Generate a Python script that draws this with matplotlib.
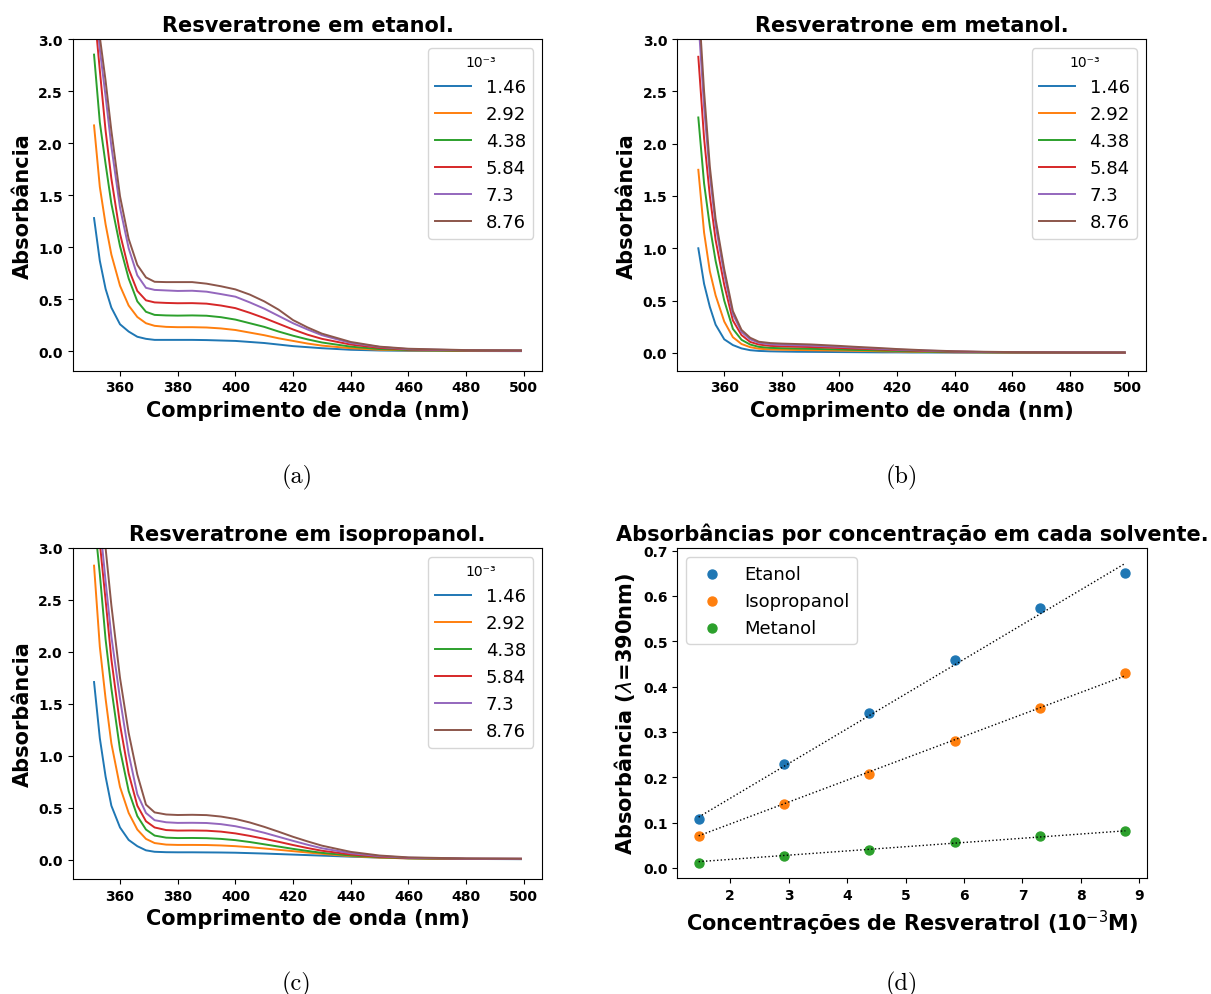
import numpy as np
import matplotlib
matplotlib.use('Agg')
from matplotlib import pyplot as plt

# Comprimentos de onda (nm) em que os espectros foram lidos
wl = [351, 353, 355, 357, 360, 363, 366, 369, 372, 376, 380, 385, 390,
      395, 400, 405, 410, 415, 420, 425, 430, 440, 450, 460, 480, 499]

# Concentrações (10^-3 M)
conc = [1.46, 2.92, 4.38, 5.84, 7.3, 8.76]
conc_labels = ['1.46', '2.92', '4.38', '5.84', '7.3', '8.76']

# Etanol
eta_146 = [1.28, 0.87, 0.60, 0.42, 0.26, 0.19, 0.14, 0.12, 0.11, 0.11, 0.11, 0.11, 0.108,
           0.104, 0.10, 0.09, 0.08, 0.065, 0.05, 0.04, 0.03, 0.015, 0.008, 0.005, 0.003, 0.002]
eta_292 = [2.17, 1.58, 1.22, 0.93, 0.63, 0.44, 0.33, 0.27, 0.245, 0.235, 0.232, 0.232, 0.229,
           0.22, 0.205, 0.18, 0.155, 0.125, 0.10, 0.075, 0.055, 0.03, 0.015, 0.009, 0.005, 0.004]
eta_438 = [2.85, 2.20, 1.80, 1.42, 1.01, 0.70, 0.48, 0.38, 0.35, 0.345, 0.343, 0.345, 0.342,
           0.328, 0.305, 0.27, 0.235, 0.19, 0.15, 0.115, 0.085, 0.045, 0.022, 0.012, 0.006, 0.005]
eta_584 = [3.30, 2.70, 2.12, 1.66, 1.13, 0.79, 0.58, 0.49, 0.47, 0.465, 0.462, 0.463, 0.458,
           0.44, 0.415, 0.37, 0.32, 0.265, 0.21, 0.16, 0.12, 0.065, 0.033, 0.017, 0.008, 0.006]
eta_730 = [3.45, 2.90, 2.45, 1.97, 1.38, 0.99, 0.73, 0.61, 0.59, 0.585, 0.58, 0.582, 0.573,
           0.55, 0.525, 0.47, 0.41, 0.34, 0.27, 0.21, 0.155, 0.08, 0.042, 0.021, 0.01, 0.008]
eta_876 = [3.60, 3.02, 2.60, 2.12, 1.49, 1.08, 0.83, 0.71, 0.668, 0.665, 0.665, 0.665, 0.65,
           0.625, 0.595, 0.545, 0.48, 0.40, 0.30, 0.23, 0.17, 0.09, 0.045, 0.025, 0.012, 0.01]

# Metanol
met_146 = [1.00, 0.66, 0.44, 0.27, 0.13, 0.075, 0.043, 0.026, 0.019, 0.015, 0.013, 0.011, 0.010,
           0.009, 0.008, 0.007, 0.006, 0.005, 0.005, 0.004, 0.004, 0.003, 0.003, 0.002, 0.002, 0.002]
met_292 = [1.75, 1.15, 0.78, 0.55, 0.30, 0.15, 0.085, 0.055, 0.04, 0.033, 0.03, 0.028, 0.026,
           0.024, 0.022, 0.02, 0.018, 0.015, 0.013, 0.011, 0.009, 0.006, 0.005, 0.004, 0.003, 0.003]
met_438 = [2.25, 1.62, 1.21, 0.88, 0.50, 0.23, 0.125, 0.08, 0.058, 0.048, 0.045, 0.042, 0.039,
           0.036, 0.033, 0.029, 0.026, 0.022, 0.019, 0.015, 0.012, 0.008, 0.006, 0.005, 0.003, 0.003]
met_584 = [2.83, 2.05, 1.50, 1.08, 0.65, 0.31, 0.17, 0.105, 0.08, 0.067, 0.063, 0.059, 0.056,
           0.052, 0.047, 0.042, 0.037, 0.031, 0.027, 0.022, 0.018, 0.012, 0.008, 0.006, 0.004, 0.003]
met_730 = [3.20, 2.35, 1.70, 1.22, 0.75, 0.37, 0.20, 0.13, 0.097, 0.082, 0.077, 0.073, 0.070,
           0.064, 0.058, 0.052, 0.045, 0.038, 0.032, 0.027, 0.022, 0.014, 0.009, 0.007, 0.005, 0.004]
met_876 = [3.40, 2.50, 1.78, 1.28, 0.80, 0.40, 0.22, 0.145, 0.107, 0.094, 0.089, 0.085, 0.081,
           0.074, 0.067, 0.059, 0.052, 0.045, 0.037, 0.031, 0.025, 0.016, 0.011, 0.008, 0.005, 0.004]

# Isopropanol
iso_146 = [1.71, 1.17, 0.80, 0.52, 0.31, 0.19, 0.13, 0.09, 0.076, 0.072, 0.071, 0.071, 0.070,
           0.069, 0.067, 0.063, 0.059, 0.054, 0.049, 0.044, 0.039, 0.029, 0.02, 0.013, 0.007, 0.005]
iso_292 = [2.83, 2.05, 1.55, 1.12, 0.70, 0.45, 0.29, 0.20, 0.16, 0.145, 0.142, 0.142, 0.141,
           0.137, 0.13, 0.12, 0.108, 0.095, 0.082, 0.069, 0.056, 0.034, 0.02, 0.012, 0.007, 0.006]
iso_438 = [3.30, 2.75, 2.12, 1.65, 1.06, 0.66, 0.42, 0.29, 0.232, 0.212, 0.208, 0.209, 0.207,
           0.2, 0.188, 0.17, 0.148, 0.126, 0.104, 0.084, 0.066, 0.04, 0.024, 0.014, 0.008, 0.007]
iso_584 = [3.60, 3.05, 2.50, 1.93, 1.30, 0.83, 0.52, 0.37, 0.31, 0.285, 0.28, 0.281, 0.279,
           0.27, 0.253, 0.229, 0.201, 0.172, 0.141, 0.112, 0.086, 0.05, 0.028, 0.016, 0.009, 0.008]
iso_730 = [3.70, 3.25, 2.68, 2.15, 1.55, 1.02, 0.63, 0.45, 0.38, 0.36, 0.354, 0.355, 0.353,
           0.342, 0.322, 0.293, 0.259, 0.22, 0.181, 0.144, 0.11, 0.062, 0.034, 0.019, 0.01, 0.009]
iso_876 = [3.75, 3.45, 3.00, 2.45, 1.75, 1.22, 0.82, 0.53, 0.455, 0.435, 0.43, 0.432, 0.429,
           0.415, 0.392, 0.358, 0.316, 0.269, 0.22, 0.176, 0.135, 0.075, 0.04, 0.022, 0.012, 0.01]

# Absorbância em 390 nm
abs_etanol = [0.108, 0.229, 0.342, 0.458, 0.573, 0.650]
abs_isopropanol = [0.070, 0.141, 0.207, 0.279, 0.353, 0.429]
abs_metanol = [0.010, 0.026, 0.039, 0.056, 0.070, 0.081]


def ticks_negrito(ax):
    ax.tick_params(labelsize=10)
    for t in ax.get_xticklabels() + ax.get_yticklabels():
        t.set_fontweight('bold')


def painel_espectros(ax, curvas, titulo, ymin):
    for y, lab in zip(curvas, conc_labels):
        ax.plot(wl, y, lw=1.4, label=lab)
    ax.set_ylim(ymin, 3.0)
    ax.set_title(titulo, fontsize=15, fontweight='bold')
    ax.set_xlabel('Comprimento de onda (nm)', fontsize=15, fontweight='bold')
    ax.set_ylabel('Absorbância', fontsize=15, fontweight='bold')
    ax.legend(title='10⁻³', loc='upper right', fontsize=13,
              title_fontsize=10)
    ticks_negrito(ax)


W, H = 1211, 995
fig = plt.figure(figsize=(W / 100, H / 100), dpi=100)

def eixo(x0, x1, y0, y1):
    # posição em pixels (origem no canto superior esquerdo)
    return fig.add_axes([x0 / W, 1 - y1 / H, (x1 - x0) / W, (y1 - y0) / H])

ax1 = eixo(72.7, 542.3, 40, 371.7)
ax2 = eixo(677, 1146, 40, 371.7)
ax3 = eixo(72.7, 542.3, 549, 880)
ax4 = eixo(677.3, 1146.7, 549.3, 879.3)

painel_espectros(ax1, [eta_146, eta_292, eta_438, eta_584, eta_730, eta_876],
                 'Resveratrone em etanol.', -0.186)
painel_espectros(ax2, [met_146, met_292, met_438, met_584, met_730, met_876],
                 'Resveratrone em metanol.', -0.17)
painel_espectros(ax3, [iso_146, iso_292, iso_438, iso_584, iso_730, iso_876],
                 'Resveratrone em isopropanol.', -0.186)

# Ajuste linear passando pela origem para cada solvente
x = np.array(conc)
for nome, y in [('Etanol', abs_etanol), ('Isopropanol', abs_isopropanol),
                ('Metanol', abs_metanol)]:
    y = np.array(y)
    k = np.sum(x * y) / np.sum(x * x)
    ax4.scatter(x, y, s=42, label=nome)
    ax4.plot(x, k * x, ':', color='black', lw=1.0)

ax4.set_title('Absorbâncias por concentração em cada solvente.', fontsize=15,
              fontweight='bold')
ax4.set_xlabel('Concentrações de Resveratrol (10$^{-3}$M)', fontsize=15,
               fontweight='bold')
ax4.set_ylabel(r'Absorbância ($\lambda$=390nm)', fontsize=15, fontweight='bold')
ax4.legend(loc='upper left', fontsize=13)
ticks_negrito(ax4)

# Legendas das subfiguras
for xc, yc, txt in [(297, 477, '(a)'), (902, 477, '(b)'),
                    (297, 984, '(c)'), (902, 984, '(d)')]:
    fig.text(xc / W, 1 - yc / H, txt, fontsize=17.5, family='cmr10',
             ha='center', va='center')

fig.savefig('out.png', dpi=100)
